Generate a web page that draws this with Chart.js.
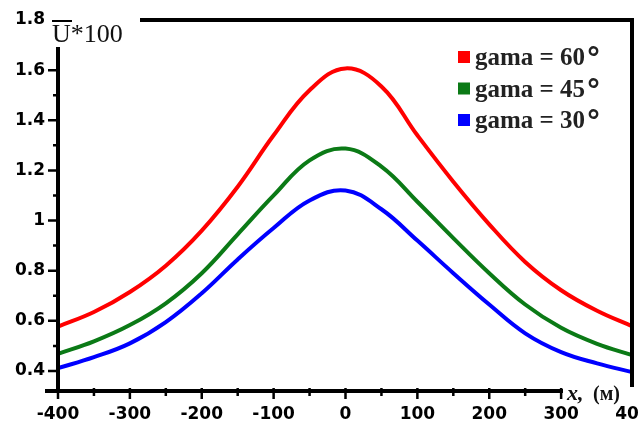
<!DOCTYPE html>
<html>
<head>
<meta charset="utf-8">
<script src="https://cdn.jsdelivr.net/npm/chart.js@4.4.0/dist/chart.umd.min.js"></script>
<style>
  html, body { margin: 0; padding: 0; background: #fff; }
</style>
</head>
<body>
<canvas id="chart" width="638" height="436"></canvas>
<script>
// values
const xValues = [-400, -350, -300, -250, -200, -150, -100, -50, 0, 50, 100, 150, 200, 250, 300, 350, 400];
const gama60 = [0.577, 0.635, 0.715, 0.820, 0.960, 1.135, 1.340, 1.520, 1.607, 1.535, 1.340, 1.155, 0.985, 0.835, 0.722, 0.640, 0.577];
const gama45 = [0.468, 0.518, 0.583, 0.670, 0.790, 0.945, 1.100, 1.240, 1.287, 1.215, 1.075, 0.930, 0.790, 0.665, 0.572, 0.508, 0.462];
const gama30 = [0.411, 0.455, 0.510, 0.595, 0.710, 0.845, 0.970, 1.080, 1.120, 1.045, 0.920, 0.790, 0.665, 0.550, 0.475, 0.430, 0.395];

const seriesLabels = ['gama = 60', 'gama = 45', 'gama = 30'];
const seriesColors = ['#ff0000', '#0b7a16', '#0000ff'];

const xTicks = [-400, -350, -300, -250, -200, -150, -100, -50, 0, 50, 100, 150, 200, 250, 300, 350, 400];
const yTicks = [0.4, 0.5, 0.6, 0.7, 0.8, 0.9, 1.0, 1.1, 1.2, 1.3, 1.4, 1.5, 1.6, 1.7, 1.8];

const toPoints = ys => xValues.map((x, i) => ({ x: x, y: ys[i] }));

// spines, tick marks, legend and axis titles
const frame = {
  id: 'frame',
  afterDatasetsDraw(chart) {
    const { ctx, chartArea: a, scales } = chart;
    const sx = scales.x, sy = scales.y;
    ctx.save();
    ctx.strokeStyle = '#000';
    ctx.lineWidth = 4;
    ctx.lineCap = 'butt';
    ctx.beginPath();
    ctx.moveTo(a.left, 47); ctx.lineTo(a.left, a.bottom + 2);
    ctx.moveTo(45, a.bottom); ctx.lineTo(563, a.bottom);
    ctx.moveTo(a.right - 1, a.top - 2); ctx.lineTo(a.right - 1, a.bottom - 4);
    ctx.moveTo(140, a.top); ctx.lineTo(a.right + 1, a.top);
    ctx.stroke();

    ctx.lineWidth = 2.5;
    ctx.beginPath();
    yTicks.forEach(v => {
      const py = sy.getPixelForValue(v);
      if (py < 50) return;
      const major = Math.round(v * 10) % 2 === 0;
      ctx.moveTo(a.left - (major ? 10 : 5), py);
      ctx.lineTo(a.left, py);
    });
    xTicks.forEach(v => {
      const px = sx.getPixelForValue(v);
      if (px > 563) return;
      const major = v % 100 === 0;
      ctx.moveTo(px, a.bottom - 3);
      ctx.lineTo(px, a.bottom + (major ? 8 : 5));
    });
    ctx.stroke();

    // y title with overline
    ctx.fillStyle = '#111';
    ctx.font = '26px "Liberation Serif"';
    ctx.textBaseline = 'alphabetic';
    ctx.textAlign = 'left';
    ctx.fillText('U*100', 52, 42);
    ctx.lineWidth = 2;
    ctx.beginPath();
    ctx.moveTo(52, 21); ctx.lineTo(72, 21);
    ctx.stroke();

    // x title
    ctx.font = 'italic bold 22px "Liberation Serif"';
    ctx.fillText('x,', 567, 400);
    ctx.font = 'bold 20px "Liberation Serif"';
    ctx.fillText('(м)', 593, 400);

    // legend
    seriesLabels.forEach((label, i) => {
      const cy = 57 + i * 31.5;
      ctx.fillStyle = seriesColors[i];
      ctx.fillRect(458, cy - 6, 12, 12);
      ctx.fillStyle = '#222';
      ctx.font = 'bold 25px "Liberation Serif"';
      ctx.fillText(label, 475, cy + 8);
      const w = ctx.measureText(label).width;
      ctx.font = 'bold 30px "DejaVu Sans"';
      ctx.fillText('°', 476 + w, cy + 12);
    });
    ctx.restore();
  }
};

const tickFont = { family: '"DejaVu Sans"', size: 17, weight: 'bold' };

new Chart(document.getElementById('chart'), {
  type: 'line',
  data: {
    datasets: seriesLabels.map((label, i) => ({
      label: label,
      data: toPoints([gama60, gama45, gama30][i]),
      borderColor: seriesColors[i],
      borderWidth: 4,
      pointRadius: 0,
      tension: 0.4,
      fill: false
    }))
  },
  options: {
    responsive: false,
    animation: false,
    devicePixelRatio: 1,
    layout: { padding: { top: 20, right: 5, left: 0, bottom: 0 } },
    plugins: {
      legend: { display: false },
      tooltip: { enabled: false }
    },
    scales: {
      x: {
        type: 'linear',
        min: -400,
        max: 400,
        afterBuildTicks: s => { s.ticks = xTicks.map(v => ({ value: v })); },
        afterFit: s => { s.height = 45; s.paddingLeft = 0; s.paddingRight = 0; },
        grid: { display: false, drawTicks: false },
        border: { display: false },
        ticks: {
          autoSkip: false,
          maxRotation: 0,
          padding: 13,
          color: '#000',
          font: tickFont,
          callback: v => (v % 100 === 0 ? String(v) : '')
        }
      },
      y: {
        type: 'linear',
        min: 0.32,
        max: 1.8,
        afterBuildTicks: s => { s.ticks = yTicks.map(v => ({ value: v })); },
        afterFit: s => { s.width = 58; s.paddingTop = 0; s.paddingBottom = 0; },
        grid: { display: false, drawTicks: false },
        border: { display: false },
        ticks: {
          autoSkip: false,
          padding: 13,
          color: '#000',
          font: tickFont,
          callback: v => (Math.round(v * 10) % 2 === 0 ? String(+v.toFixed(1)) : '')
        }
      }
    }
  },
  plugins: [frame]
});
</script>
</body>
</html>
